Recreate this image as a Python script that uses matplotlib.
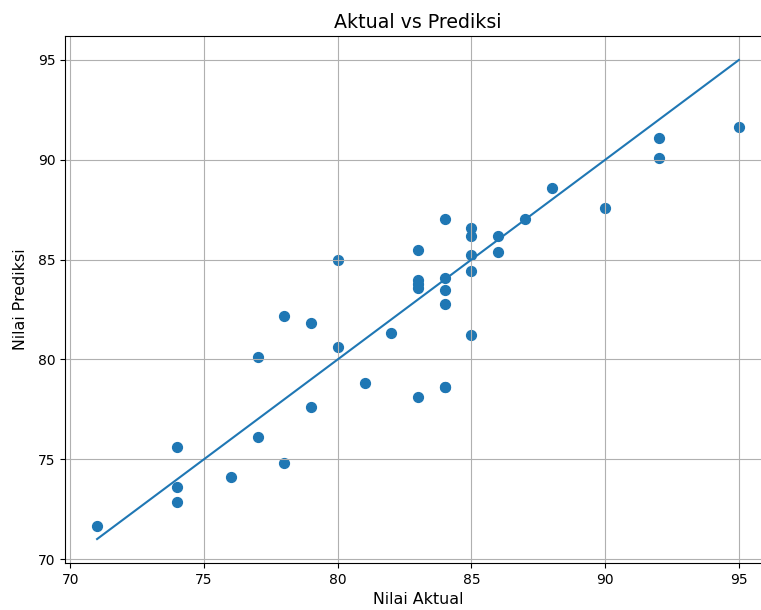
import matplotlib
matplotlib.use("Agg")
import matplotlib.pyplot as plt

# nilai aktual vs prediksi
aktual = [71, 74, 74, 74, 76, 77, 77, 78, 78, 79, 79, 80, 80, 81, 82,
          83, 83, 83, 83, 83, 84, 84, 84, 84, 84, 84, 85, 85, 85, 85, 85,
          86, 86, 87, 88, 90, 92, 92, 95]
prediksi = [71.65, 75.6, 73.6, 72.85, 74.1, 76.1, 80.1, 82.15, 74.8, 81.8, 77.6,
            85.0, 80.6, 78.8, 81.3,
            85.5, 84.0, 83.8, 83.6, 78.1,
            87.05, 84.1, 83.5, 82.75, 78.6, 78.6,
            86.6, 86.2, 85.25, 84.45, 81.2,
            86.2, 85.4, 87.05, 88.6, 87.6, 91.1, 90.1, 91.65]

fig = plt.figure(figsize=(7.61, 6.1), dpi=100)
ax = fig.add_axes([65/761, 47/610, 706/761, 527/610])

ax.scatter(aktual, prediksi, s=50)
ax.plot([min(aktual), max(aktual)], [min(aktual), max(aktual)])
ax.set_xlabel('Nilai Aktual', fontsize=11.4)
ax.set_ylabel('Nilai Prediksi', fontsize=11.4, labelpad=7)
ax.set_title('Aktual vs Prediksi', fontsize=13.7)
ax.grid(True)

fig.savefig('out.png', dpi=100)
